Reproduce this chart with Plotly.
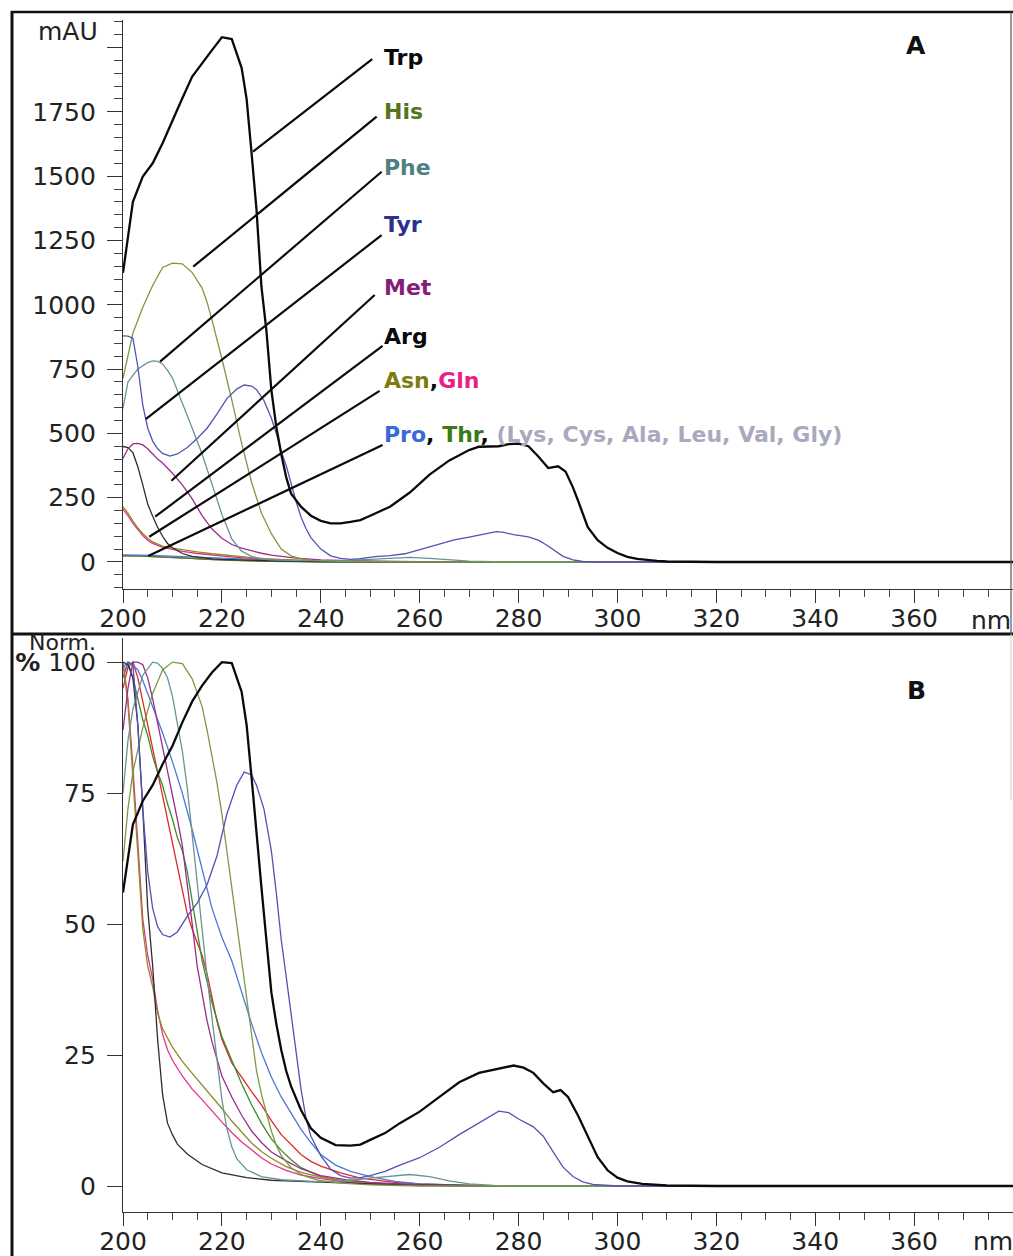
import plotly.graph_objects as go

# ---------------- Panel A data (mAU) ----------------
TRP_A_NM = [200, 202, 204, 206, 208, 210, 212, 214, 216, 218, 220, 222, 224, 225, 226, 227, 228, 229, 230, 231, 232, 233, 234, 236, 238, 240, 242, 244, 246, 248, 250, 254, 258, 262, 266, 270, 272, 276, 278, 280, 282, 284, 286, 288, 289.5, 291, 292, 294, 296, 298, 300, 302, 304, 306, 308, 310, 320, 340, 360, 380]
TRP_A_MAU = [1124, 1400, 1498, 1550, 1628, 1718, 1803, 1887, 1940, 1990, 2040, 2033, 1920, 1800, 1590, 1370, 1070, 900, 669, 526, 420, 330, 265, 215, 180, 160, 150, 150, 156, 163, 180, 215, 270, 340, 395, 435, 448, 450, 458, 460, 450, 410, 365, 372, 352, 290, 240, 135, 85, 55, 35, 20, 12, 7, 4, 2, 0, 0, 0, 0]

HIS_A_NM = [200, 202, 204, 206, 208, 210, 212, 214, 216, 217, 218, 219, 220, 222, 224, 226, 228, 230, 232, 234, 236, 238, 240, 245, 250, 260, 300, 380]
HIS_A_MAU = [714, 889, 990, 1075, 1145, 1162, 1159, 1125, 1065, 1010, 940, 870, 790, 630, 460, 310, 190, 110, 50, 24, 12, 7, 4, 2, 1, 0, 0, 0]

PHE_A_NM = [200, 201, 203, 205, 206, 207, 208, 209, 210, 212, 214, 216, 218, 220, 222, 224, 226, 228, 230, 235, 240, 245, 250, 255, 258, 262, 266, 270, 275, 280, 380]
PHE_A_MAU = [597, 700, 750, 775, 782, 780, 770, 745, 715, 620, 520, 420, 300, 185, 90, 42, 22, 12, 8, 5, 5, 6, 10, 15, 18, 14, 8, 3, 1, 0, 0]

TYR_A_NM = [200, 201, 202, 203, 204, 205, 206, 207, 208, 209.5, 211, 213, 215, 217, 219, 221, 223, 224.5, 226, 227, 228.5, 230, 231, 232, 233, 234, 235, 236, 237, 238, 240, 242, 244, 246, 248, 251, 254, 257, 261, 264, 267, 270, 272, 274, 275.5, 277, 279, 282, 284, 285.5, 287, 289, 291, 293, 296, 380]
TYR_A_MAU = [879, 878, 870, 760, 610, 520, 470, 440, 422, 412, 420, 445, 480, 520, 575, 635, 672, 688, 684, 670, 628, 560, 500, 430, 375, 300, 235, 175, 130, 95, 50, 24, 14, 10, 13, 21, 25, 32, 53, 68, 86, 97, 104, 112, 118, 115, 106, 98, 85, 68, 48, 22, 8, 2, 0, 0]

MET_A_NM = [200, 201, 202, 203, 204, 205, 206, 207, 208, 210, 212, 214, 216, 218, 220, 222, 224, 226, 228, 230, 235, 240, 245, 250, 260, 280, 380]
MET_A_MAU = [403, 440, 459, 461, 455, 440, 420, 400, 385, 345, 300, 245, 180, 128, 92, 68, 54, 43, 34, 27, 15, 8, 5, 3, 1, 0, 0]

ARG_A_NM = [200, 201, 202, 203, 204, 205, 206, 207, 208, 209, 210, 212, 214, 216, 218, 220, 225, 230, 240, 250, 260, 270, 380]
ARG_A_MAU = [449, 445, 425, 370, 300, 225, 178, 135, 100, 72, 55, 33, 22, 16, 12, 10, 6.5, 4.5, 2, 1, 0.4, 0, 0]

ASN_A_NM = [200, 201, 202, 203, 204, 205, 206, 208, 210, 212, 215, 218, 220, 223, 226, 230, 235, 240, 245, 250, 260, 270, 380]
ASN_A_MAU = [215, 190, 160, 132, 110, 92, 78, 62, 54, 47, 39, 32, 28, 22, 17, 11.5, 7, 4, 2.2, 1.2, 0.4, 0, 0]

GLN_A_NM = [200, 201, 202, 203, 204, 205, 206, 208, 210, 212, 215, 218, 220, 223, 226, 230, 235, 240, 245, 250, 260, 270, 380]
GLN_A_MAU = [205, 180, 150, 125, 103, 85, 72, 57, 48, 41, 33, 27, 23, 18, 14, 9.5, 6, 3.5, 2, 1, 0.3, 0, 0]

PRO_A_NM = [200, 202, 204, 206, 208, 210, 214, 218, 222, 226, 230, 235, 240, 245, 250, 260, 380]
PRO_A_MAU = [28, 28, 27, 25.5, 24, 22.5, 19, 15, 12, 9, 6, 4, 2, 1, 0.5, 0, 0]

THR_A_NM = [200, 202, 204, 206, 208, 210, 214, 218, 222, 226, 230, 235, 240, 250, 380]
THR_A_MAU = [25, 25, 23, 21, 19.5, 18, 14, 9, 6, 4, 2.5, 1.3, 0.5, 0, 0]

LYS_A_NM = [200, 202, 204, 206, 208, 210, 214, 218, 222, 226, 230, 235, 240, 250, 260, 380]
LYS_A_MAU = [24, 25, 23, 21, 18.5, 16, 12, 8.5, 6, 4.5, 3, 1.5, 1, 0.3, 0, 0]

# ---------------- Panel B data (normalised %) ----------------
TRP_B_NM = [200, 202, 204, 206, 208, 210, 212, 214, 216, 218, 220, 222, 224, 225, 226, 227, 228, 229, 230, 231, 232, 233, 234, 236, 238, 240, 243, 246, 248, 250, 253, 256, 260, 264, 268, 272, 275, 277, 279, 281, 283, 285, 287, 288.5, 290, 292, 294, 296, 298, 300, 302, 305, 310, 320, 380]
TRP_B_PCT = [56, 69, 73.5, 76.5, 80.5, 84, 88.5, 92.5, 95.5, 98, 100, 99.8, 94.3, 88, 78, 67, 57, 47, 37, 31, 26, 22, 19, 14.5, 11, 9.2, 7.8, 7.7, 7.9, 8.8, 10.1, 12, 14.2, 17, 19.8, 21.6, 22.2, 22.5, 23, 22.6, 21.6, 19.6, 17.9, 18.3, 17, 13.5, 9.5, 5.5, 3, 1.6, 0.9, 0.4, 0.1, 0, 0]

HIS_B_NM = [200, 201, 202, 204, 206, 208, 210, 212, 214, 216, 217, 218, 219, 220, 221, 222, 223, 224, 225, 226, 227, 228, 229, 230, 231, 232, 234, 236, 238, 240, 245, 250, 260, 380]
HIS_B_PCT = [62, 72, 79, 87.5, 94, 98.5, 100, 99.7, 96.8, 91.5, 87, 82, 77, 71, 64, 57, 50, 43, 36.5, 29, 22, 17.5, 14, 10.5, 7.8, 5.8, 3.5, 2.2, 1.5, 1, 0.5, 0.2, 0, 0]

PHE_B_NM = [200, 201, 202, 203, 204, 206, 207, 208, 209, 210, 211, 212, 213, 214, 215, 216, 217, 218, 219, 220, 221, 222, 223, 225, 228, 232, 240, 246, 250, 254, 258, 262, 266, 270, 275, 280, 380]
PHE_B_PCT = [75, 85, 91, 94.5, 97.5, 100, 99.8, 98.8, 97, 93.5, 88.5, 83, 76, 67, 57, 48, 40, 32, 24, 16.5, 11, 7.5, 5.2, 3.1, 1.8, 1.2, 0.8, 1.1, 1.5, 1.9, 2.2, 1.8, 1, 0.4, 0.1, 0, 0]

TYR_B_NM = [200, 201, 202, 203, 204, 205, 206, 207, 208, 209.5, 211, 213, 215, 217, 219, 221, 223, 224.5, 226, 227, 228.5, 230, 231, 232, 233, 234, 235, 236, 237, 238, 240, 242, 244, 246, 248, 250, 253, 256, 260, 264, 268, 272, 276, 278, 280, 283, 285, 287, 289, 291, 293, 295, 300, 380]
TYR_B_PCT = [99, 100, 99.5, 88, 72, 60, 53, 49.5, 48, 47.5, 48.5, 51.5, 54, 57.5, 63, 71, 76.5, 79, 78.5, 76.5, 72, 64, 56, 47, 40, 32.5, 25.5, 18.5, 13, 9.5, 5.8, 3.2, 2, 1.5, 1.6, 2, 2.8, 4, 5.4, 7.4, 9.8, 12, 14.3, 14, 12.8, 11.3, 9.5, 6.5, 3.6, 1.8, 0.8, 0.3, 0, 0]

MET_B_NM = [200, 201, 202, 203, 204, 205, 206, 207, 208, 209, 210, 211, 212, 213, 214, 215, 216, 217, 218, 220, 222, 224, 226, 228, 230, 233, 236, 240, 245, 250, 260, 270, 380]
MET_B_PCT = [87, 95, 100, 100, 99.5, 97, 93, 88.5, 84, 79.5, 75, 70, 65, 58, 50, 42, 36.5, 31.5, 27.5, 21, 17, 13.5, 10.5, 8.3, 6.5, 4.8, 3.3, 2, 1.2, 0.7, 0.2, 0, 0]

ARG_B_NM = [200, 201, 202, 203, 204, 205, 206, 207, 208, 209, 210, 211, 213, 216, 220, 225, 230, 240, 250, 260, 280, 380]
ARG_B_PCT = [100, 99.5, 97, 88, 72, 53, 42, 28, 17.5, 12, 9.8, 8, 6.1, 4.1, 2.5, 1.6, 1.1, 0.7, 0.4, 0.2, 0, 0]

ASN_B_NM = [200, 201, 202, 203, 204, 205, 206, 207, 208, 210, 212, 214, 216, 218, 220, 222, 224, 226, 228, 230, 233, 236, 240, 245, 250, 260, 270, 380]
ASN_B_PCT = [100, 92, 78, 63, 49, 42, 38, 33, 30, 26.5, 23.8, 21.5, 19.3, 17, 14.8, 12.4, 10.2, 8.2, 6.6, 5.3, 3.7, 2.6, 1.7, 1, 0.6, 0.2, 0, 0]

GLN_B_NM = [200, 201, 202, 203, 204, 205, 206, 207, 208, 209, 210, 212, 214, 216, 218, 220, 222, 224, 226, 228, 230, 233, 236, 240, 245, 250, 260, 270, 380]
GLN_B_PCT = [100, 93, 80, 65, 51, 44, 39.5, 33.5, 29, 26, 24, 21, 18.5, 16.5, 14.3, 12.2, 10.2, 8.4, 6.9, 5.4, 4.2, 3, 2.1, 1.4, 0.8, 0.5, 0.2, 0, 0]

PRO_B_NM = [200, 201, 202, 203, 204, 205, 206, 207, 208, 210, 212, 214, 216, 218, 220, 222, 224, 226, 228, 230, 232, 234, 236, 238, 240, 243, 246, 250, 255, 260, 270, 280, 380]
PRO_B_PCT = [97, 100, 99.5, 98.5, 96.5, 94, 91.5, 89, 86.5, 81, 75, 68, 60.5, 53, 47.5, 43, 37, 31, 25.5, 20.8, 17, 13.8, 10.8, 8.3, 6, 4, 2.8, 1.8, 0.9, 0.4, 0.1, 0, 0]

THR_B_NM = [200, 201, 202, 203, 204, 205, 206, 207, 208, 209, 210, 211, 212, 213, 214, 215, 216, 217, 218, 220, 222, 224, 226, 228, 230, 232, 234, 236, 240, 245, 250, 260, 270, 380]
THR_B_PCT = [97, 100, 97, 93, 89, 86, 82, 79, 76.5, 73, 70, 66.5, 64, 60, 54.5, 48.5, 43, 39, 35, 28.5, 24, 19.5, 15.5, 12, 9, 6.8, 5, 3.5, 1.8, 0.8, 0.4, 0.1, 0, 0]

LYS_B_NM = [200, 201, 202, 203, 204, 205, 206, 207, 208, 209, 210, 211, 212, 213, 214, 215, 216, 217, 218, 219, 220, 222, 224, 226, 228, 230, 232, 234, 236, 238, 240, 244, 248, 255, 260, 270, 280, 380]
LYS_B_PCT = [95, 99, 100, 97, 92.5, 88, 83.5, 78.5, 74, 69.5, 65, 60.5, 56, 52, 49, 46.5, 44, 40.5, 36, 31.5, 28, 23.5, 20.8, 18, 15.5, 12.5, 9.8, 7.8, 6, 4.7, 3.8, 2.5, 1.5, 0.7, 0.4, 0.1, 0, 0]

# ---------------- labels / ticks ----------------
A_YTICKS = [0, 250, 500, 750, 1000, 1250, 1500, 1750, 2000]
A_YTEXT = ["0", "250", "500", "750", "1000", "1250", "1500", "1750", ""]
B_YTICKS = [0, 25, 50, 75, 100]
B_YTEXT = ["0", "25", "50", "75", "<b>%</b> 100"]
XTICKS = [200, 220, 240, 260, 280, 300, 320, 340, 360]

# label: (text, y mAU, leader top end (nm, mAU), leader end on curve (nm, mAU))
LABELS = [
    ("<b>Trp</b>", 1963, (250.4, 1955), (226.3, 1595)),
    ("<b><span style='color:#55751c'>His</span></b>", 1750, (251.3, 1731), (214.2, 1148)),
    ("<b><span style='color:#4f7f7f'>Phe</span></b>", 1532, (252.3, 1517), (207.5, 779)),
    ("<b><span style='color:#2e2e8e'>Tyr</span></b>", 1312, (252.3, 1271), (204.6, 555)),
    ("<b><span style='color:#851c7c'>Met</span></b>", 1069, (250.9, 1038), (209.8, 316)),
    ("<b>Arg</b>", 875, (252.5, 840), (206.5, 176)),
    ("<b><span style='color:#7c7c12'>Asn</span>,<span style='color:#e8208a'>Gln</span></b>", 704, (251.9, 665), (205.3, 98)),
    ("<b><span style='color:#3a6ad8'>Pro</span>, <span style='color:#3a7a1a'>Thr</span>, "
     "<span style='color:#a9a9be'>(Lys, Cys, Ala, Leu, Val, Gly)</span></b>", 494, (252.5, 455), (205.1, 23)),
]
LABEL_X = 252.3

H = 1256.0
W = 1013.0
FONT = "DejaVu Sans"

fig = go.Figure()

SERIES = [
    # name, A nm, A val, B nm, B val, color, width
    ("Lys", LYS_A_NM, LYS_A_MAU, LYS_B_NM, LYS_B_PCT, "#e02828", 1.3),
    ("Thr", THR_A_NM, THR_A_MAU, THR_B_NM, THR_B_PCT, "#3f8a2c", 1.3),
    ("Pro", PRO_A_NM, PRO_A_MAU, PRO_B_NM, PRO_B_PCT, "#4a78d8", 1.3),
    ("Gln", GLN_A_NM, GLN_A_MAU, GLN_B_NM, GLN_B_PCT, "#e8308e", 1.3),
    ("Asn", ASN_A_NM, ASN_A_MAU, ASN_B_NM, ASN_B_PCT, "#8c8c22", 1.3),
    ("Arg", ARG_A_NM, ARG_A_MAU, ARG_B_NM, ARG_B_PCT, "#2c2c34", 1.3),
    ("Met", MET_A_NM, MET_A_MAU, MET_B_NM, MET_B_PCT, "#9c2a90", 1.3),
    ("Phe", PHE_A_NM, PHE_A_MAU, PHE_B_NM, PHE_B_PCT, "#6a9494", 1.3),
    ("His", HIS_A_NM, HIS_A_MAU, HIS_B_NM, HIS_B_PCT, "#7a9a44", 1.3),
    ("Tyr", TYR_A_NM, TYR_A_MAU, TYR_B_NM, TYR_B_PCT, "#5650b4", 1.3),
    ("Trp", TRP_A_NM, TRP_A_MAU, TRP_B_NM, TRP_B_PCT, "#0a0a0a", 2.3),
]

for name, anm, aval, bnm, bval, col, w in SERIES:
    fig.add_trace(go.Scatter(x=anm, y=aval, mode="lines", name=name,
                             line=dict(color=col, width=w), xaxis="x", yaxis="y",
                             showlegend=False))
    fig.add_trace(go.Scatter(x=bnm, y=bval, mode="lines", name=name,
                             line=dict(color=col, width=w), xaxis="x2", yaxis="y2",
                             showlegend=False))

tickfont = dict(family=FONT, size=25, color="#222")
xdom = [123 / W, 1.0]
xcommon = dict(range=[200, 380], tickmode="array", tickvals=XTICKS,
               ticktext=[str(v) for v in XTICKS], ticks="outside", ticklen=13,
               tickwidth=1.2, tickcolor="#333", showline=True, linecolor="#333",
               linewidth=1.2, showgrid=False, zeroline=False, tickfont=tickfont,
               minor=dict(tickmode="linear", tick0=200, dtick=5, ticks="outside",
                          ticklen=7, tickwidth=1.1, tickcolor="#444", showgrid=False),
               domain=xdom, ticklabelstandoff=-6, automargin=False)

fig.update_layout(
    width=1013, height=1256,
    margin=dict(l=0, r=0, t=0, b=0, autoexpand=False),
    paper_bgcolor="white", plot_bgcolor="white",
    showlegend=False,
    xaxis=dict(anchor="y", **xcommon),
    xaxis2=dict(anchor="y2", **xcommon),
    yaxis=dict(anchor="x", domain=[1 - 589 / H, 1 - 20 / H], range=[-105, 2107],
               tickmode="array", tickvals=A_YTICKS, ticktext=A_YTEXT,
               ticks="outside", ticklen=15, tickwidth=1.2, tickcolor="#333",
               showline=True, linecolor="#333", linewidth=1.2, showgrid=False,
               zeroline=False, tickfont=tickfont, ticklabelstandoff=6, automargin=False,
               minor=dict(tickmode="linear", tick0=0, dtick=50, ticks="outside",
                          ticklen=8, tickwidth=1.1, tickcolor="#444", showgrid=False)),
    yaxis2=dict(anchor="x2", domain=[1 - 1212 / H, 1 - 638 / H], range=[-4.96, 104.6],
                tickmode="array", tickvals=B_YTICKS, ticktext=B_YTEXT,
                ticks="outside", ticklen=15, tickwidth=1.2, tickcolor="#333",
                showline=True, linecolor="#333", linewidth=1.2, showgrid=False,
                zeroline=False, tickfont=tickfont, ticklabelstandoff=6, automargin=False),
)

shapes = []
annotations = []
for text, ty, (x1, y1), (x0, y0) in LABELS:
    shapes.append(dict(type="line", xref="x", yref="y", x0=x0, y0=y0, x1=x1, y1=y1,
                       line=dict(color="#0a0a0a", width=2.2), layer="above"))
    annotations.append(dict(text=text, xref="x", yref="y", x=LABEL_X, y=ty,
                            xanchor="left", yanchor="middle", showarrow=False,
                            font=dict(family=FONT, size=22, color="#0a0a0a")))

# frame
shapes += [
    dict(type="line", xref="paper", yref="paper", x0=12 / W, x1=12 / W, y0=0, y1=1 - 11 / H,
         line=dict(color="#111", width=3)),
    dict(type="line", xref="paper", yref="paper", x0=11 / W, x1=1, y0=1 - 12 / H, y1=1 - 12 / H,
         line=dict(color="#111", width=2.5)),
    dict(type="line", xref="paper", yref="paper", x0=11 / W, x1=1, y0=1 - 634 / H, y1=1 - 634 / H,
         line=dict(color="#111", width=3)),
    dict(type="line", xref="paper", yref="paper", x0=1011 / W, x1=1011 / W, y0=1 - 634 / H, y1=1 - 12 / H,
         line=dict(color="#555", width=1.2)),
    dict(type="line", xref="paper", yref="paper", x0=1011 / W, x1=1011 / W, y0=1 - 800 / H, y1=1 - 634 / H,
         line=dict(color="#cccccc", width=1)),
]

annotations += [
    dict(text="mAU", xref="paper", yref="paper", x=100 / W, y=1 - 32 / H, xanchor="right",
         yanchor="middle", showarrow=False, font=dict(family=FONT, size=25, color="#222")),
    dict(text="Norm.", xref="paper", yref="paper", x=98 / W, y=1 - 642 / H, xanchor="right",
         yanchor="middle", showarrow=False, font=dict(family=FONT, size=22, color="#222")),
    dict(text="nm", xref="paper", yref="paper", x=991 / W, y=1 - 620 / H, xanchor="center",
         yanchor="middle", showarrow=False, font=dict(family=FONT, size=25, color="#222")),
    dict(text="nm", xref="paper", yref="paper", x=993 / W, y=1 - 1241 / H, xanchor="center",
         yanchor="middle", showarrow=False, font=dict(family=FONT, size=25, color="#222")),
    dict(text="<b>A</b>", xref="paper", yref="paper", x=916 / W, y=1 - 45 / H, xanchor="center",
         yanchor="middle", showarrow=False, font=dict(family=FONT, size=25, color="#111")),
    dict(text="<b>B</b>", xref="paper", yref="paper", x=916 / W, y=1 - 690 / H, xanchor="center",
         yanchor="middle", showarrow=False, font=dict(family=FONT, size=25, color="#111")),
]

fig.update_layout(shapes=shapes, annotations=annotations)
fig.write_html("out.html")
